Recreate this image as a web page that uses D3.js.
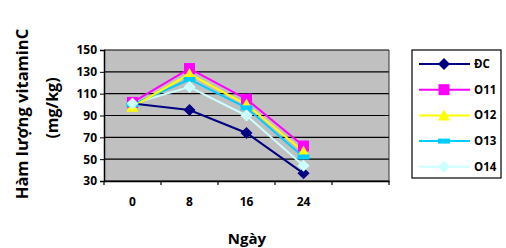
<!DOCTYPE html>
<html>
<head>
<meta charset="utf-8">
<script src="https://cdn.jsdelivr.net/npm/d3@7"></script>
<style>
  body { margin: 0; background: #fff; }
  text { font-family: "Open Sans", sans-serif; font-weight: 700; }
</style>
</head>
<body>
<script>
var days = ["0", "8", "16", "24", ""];
var seriesNames = ["ĐC", "O11", "O12", "O13", "O14"];
var dcValues = [101, 95, 74, 37];
var o11Values = [102, 133, 105, 62];
var o12Values = [98, 128, 100, 57];
var o13Values = [100, 123, 97, 52];
var o14Values = [101, 116, 90, 44];
var yTicks = [30, 50, 70, 90, 110, 130, 150];

var series = [
  {name: seriesNames[0], values: dcValues, color: "#000080", marker: "diamond"},
  {name: seriesNames[1], values: o11Values, color: "#ff00ff", marker: "square"},
  {name: seriesNames[2], values: o12Values, color: "#ffff00", marker: "triangle"},
  {name: seriesNames[3], values: o13Values, color: "#00ccff", marker: "bar"},
  {name: seriesNames[4], values: o14Values, color: "#ccffff", marker: "diamond"}
];

var w = 506, h = 248;
var margin = {top: 50, left: 104};
var width = 285, height = 131;

var svg = d3.select("body").append("svg").attr("width", w).attr("height", h);
var chart = svg.append("g").attr("transform", "translate(" + margin.left + "," + margin.top + ")");

var x = d3.scaleBand().domain(days).range([0, width]);
var y = d3.scaleLinear().domain([30, 150]).range([height, 0]);

chart.append("rect").attr("width", width).attr("height", height).attr("fill", "#c0c0c0");

// gridlines
chart.append("g").selectAll("line").data(yTicks).enter().append("line")
  .attr("x1", 0).attr("x2", width)
  .attr("y1", function(d){ return y(d); }).attr("y2", function(d){ return y(d); })
  .attr("stroke", "#000").attr("stroke-width", 1.2);

chart.append("line").attr("x1", width).attr("x2", width).attr("y1", 0).attr("y2", height)
  .attr("stroke", "#333").attr("stroke-width", 1);

// axes
var yAxis = chart.append("g").call(d3.axisLeft(y).tickValues(yTicks).tickSize(4).tickPadding(3));
yAxis.select(".domain").attr("stroke-width", 1.5);
yAxis.selectAll("text").style("font-size", "12px").attr("fill", "#000");

var xAxis = chart.append("g").attr("transform", "translate(0," + height + ")")
  .call(d3.axisBottom(x).tickSize(0).tickPadding(16));
xAxis.select(".domain").attr("stroke-width", 1.5);
xAxis.selectAll("text").style("font-size", "12px").attr("fill", "#000");
xAxis.selectAll(".sep").data(d3.range(days.length + 1)).enter().append("line")
  .attr("x1", function(i){ return i * x.step(); }).attr("x2", function(i){ return i * x.step(); })
  .attr("y1", 0).attr("y2", 4).attr("stroke", "#000").attr("stroke-width", 1.2);

function drawMarker(g, type, color) {
  if (type === "diamond") {
    g.append("path").attr("d", "M0,-6L6,0L0,6L-6,0Z").attr("fill", color);
  } else if (type === "square") {
    g.append("rect").attr("x", -5.5).attr("y", -5.5).attr("width", 11).attr("height", 11).attr("fill", color);
  } else if (type === "triangle") {
    g.append("path").attr("d", "M0,-6L6,5L-6,5Z").attr("fill", color);
  } else if (type === "bar") {
    g.append("rect").attr("x", -6).attr("y", -2.5).attr("width", 12).attr("height", 5).attr("fill", color);
  }
}

var line = d3.line()
  .x(function(d, i){ return x(days[i]) + x.bandwidth() / 2; })
  .y(function(d){ return y(d); });

series.slice().reverse().forEach(function(s){
  chart.append("path").datum(s.values).attr("d", line)
    .attr("fill", "none").attr("stroke", s.color).attr("stroke-width", 2);
});
series.forEach(function(s){
  s.values.forEach(function(v, i){
    var g = chart.append("g").attr("transform", "translate(" + (x(days[i]) + x.bandwidth() / 2) + "," + y(v) + ")");
    drawMarker(g, s.marker, s.color);
  });
});

// axis titles
svg.append("text").attr("transform", "translate(28,114) rotate(-90)")
  .attr("text-anchor", "middle").style("font-size", "16.5px").text("Hàm lượng vitaminC");
svg.append("text").attr("transform", "translate(58,108) rotate(-90)")
  .attr("text-anchor", "middle").style("font-size", "16px").text("(mg/kg)");
svg.append("text").attr("x", 247).attr("y", 244)
  .attr("text-anchor", "middle").style("font-size", "15px").text("Ngày");

// legend
var legend = svg.append("g").attr("transform", "translate(412,50)");
legend.append("rect").attr("width", 89).attr("height", 128)
  .attr("fill", "#fff").attr("stroke", "#000").attr("stroke-width", 1.2);
series.forEach(function(s, i){
  var gy = 14 + i * 25.7;
  legend.append("line").attr("x1", 7).attr("x2", 58).attr("y1", gy).attr("y2", gy)
    .attr("stroke", s.color).attr("stroke-width", 2);
  drawMarker(legend.append("g").attr("transform", "translate(32," + gy + ")"), s.marker, s.color);
  legend.append("text").attr("x", 62).attr("y", gy + 4).style("font-size", "11.5px").text(s.name);
});
</script>
</body>
</html>
